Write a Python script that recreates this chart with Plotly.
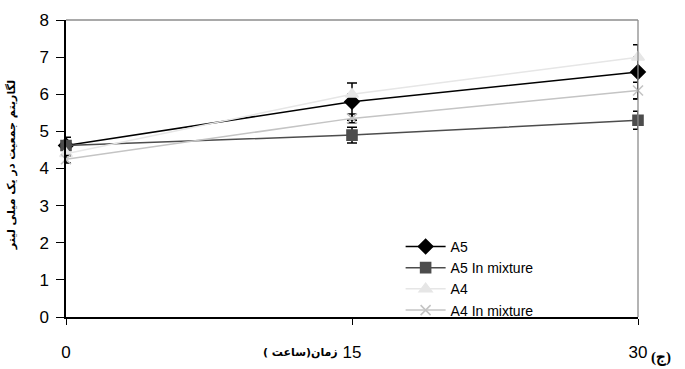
import plotly.graph_objects as go

# Sampling times (hours)
hours = [0, 15, 30]
x_ticks = ["0", "15", "30"]

# Log population per millilitre for each culture
a5 = [4.62, 5.80, 6.60]
a5_err = [0.22, 0.50, 0.73]
a5_mix = [4.62, 4.90, 5.30]
a5_mix_err = [0.10, 0.21, 0.24]
a4 = [4.40, 6.00, 7.00]
a4_err = [0.0, 0.0, 0.0]
a4_mix = [4.25, 5.35, 6.10]
a4_mix_err = [0.10, 0.12, 0.22]

series = [
    ("A5", a5, a5_err, "#000000", "diamond", 11),
    ("A5 In mixture", a5_mix, a5_mix_err, "#4d4d4d", "square", 10),
    ("A4", a4, a4_err, "#e6e6e6", "triangle-up", 11),
    ("A4 In mixture", a4_mix, a4_mix_err, "#c4c4c4", "x-thin", 10),
]

fig = go.Figure()
for name, vals, err, color, symbol, size in series:
    fig.add_trace(go.Scatter(
        x=hours, y=vals, name=name, mode="lines+markers",
        line=dict(color=color, width=1.5),
        marker=dict(symbol=symbol, size=size, color=color,
                    line=dict(color=color, width=1.6)),
        error_y=dict(type="data", array=err, visible=True,
                     color="#000000", thickness=1.5, width=5),
        cliponaxis=False,
    ))

fig.update_layout(
    width=685, height=369,
    margin=dict(l=66, r=47, t=20, b=52),
    paper_bgcolor="white", plot_bgcolor="white",
    font=dict(family="Liberation Sans, Arial", size=17, color="#000"),
    showlegend=True,
    legend=dict(x=0.585, y=0.29, xanchor="left", yanchor="top",
                bgcolor="rgba(0,0,0,0)", font=dict(size=14),
                tracegroupgap=0, itemwidth=40),
    xaxis=dict(range=[0, 30], tickmode="array", tickvals=hours, ticktext=x_ticks,
               showgrid=False, zeroline=False, showline=True,
               linecolor="#000", linewidth=1.5,
               ticks="outside", ticklen=6, tickcolor="#000",
               ticklabelstandoff=13, automargin=False),
    yaxis=dict(range=[0, 8], dtick=1, showgrid=False, zeroline=False,
               showline=True, linecolor="#000", linewidth=1.5,
               ticks="outside", ticklen=8, tickcolor="#000",
               ticklabelstandoff=4, automargin=False),
    shapes=[
        dict(type="line", xref="paper", yref="paper", x0=0, x1=1, y0=1, y1=1,
             line=dict(color="#8c8c8c", width=1.3)),
        dict(type="line", xref="paper", yref="paper", x0=1, x1=1, y0=0, y1=1,
             line=dict(color="#8c8c8c", width=1.3)),
    ],
    annotations=[
        dict(text="<b>لگاریتم جمعیت در یک میلی لیتر</b>", textangle=-90,
             xref="paper", yref="paper", x=-0.095, y=0.51,
             xanchor="center", yanchor="middle", showarrow=False,
             font=dict(family="DejaVu Sans", size=11)),
        dict(text="<b>زمان(ساعت )</b>", xref="paper", yref="paper",
             x=0.41, y=-0.118, xanchor="center", yanchor="middle",
             showarrow=False, font=dict(family="DejaVu Sans", size=11)),
        dict(text="<b>\u202d(ج)\u202c</b>", xref="paper", yref="paper",
             x=1.04, y=-0.135, xanchor="center", yanchor="middle",
             showarrow=False, font=dict(family="Liberation Serif", size=15)),
    ],
)

fig.write_html("out.html")
